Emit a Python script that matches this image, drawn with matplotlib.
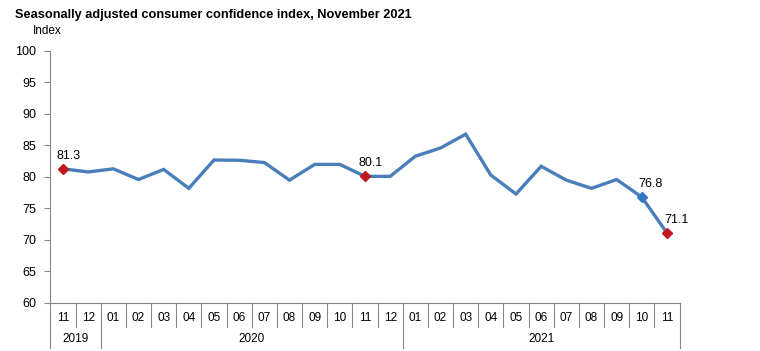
import matplotlib
matplotlib.use("Agg")
import matplotlib.pyplot as plt
import matplotlib.transforms as mtransforms

plt.rcParams['font.family'] = ['Liberation Sans', 'DejaVu Sans']

months = ["11", "12", "01", "02", "03", "04", "05", "06", "07", "08", "09", "10", "11", "12",
          "01", "02", "03", "04", "05", "06", "07", "08", "09", "10", "11"]
years = ["2019", "2020", "2021"]
year_counts = [2, 12, 11]
values = [81.3, 80.8, 81.3, 79.6, 81.2, 78.2, 82.7, 82.65, 82.3, 79.5, 82.0, 82.0, 80.1,
          80.1, 83.3, 84.6, 86.8, 80.3, 77.3, 81.7, 79.5, 78.2, 79.6, 76.8, 71.1]
red_idx = [0, 12, 24]
blue_idx = [23]
labels = {0: "81.3", 12: "80.1", 23: "76.8", 24: "71.1"}

line_c = "#4a7ebb"
red_c = "#c0181c"
blue_c = "#2f78c4"
grey = "#868686"

fig = plt.figure(figsize=(7.6, 3.51), dpi=100)
ax = fig.add_axes([50.4/760, 1-303/351, (679.6-50.4)/760, (303-51)/351])

x = list(range(len(values)))
ax.plot(x, values, color=line_c, lw=2.4, solid_joinstyle='miter', zorder=2)
ax.plot([x[i] for i in red_idx], [values[i] for i in red_idx], 'D', color=red_c, ms=5, zorder=3)
ax.plot([x[i] for i in blue_idx], [values[i] for i in blue_idx], 'D', color=blue_c, ms=5, zorder=3)

offsets = {0: (-0.25, 1.1), 12: (-0.25, 1.1), 23: (-0.15, 1.1), 24: (-0.1, 1.1)}
for i, t in labels.items():
    dx, dy = offsets[i]
    ax.text(x[i] + dx, values[i] + dy, t, fontsize=9, ha='left', va='bottom', color='#000000')

ax.set_xlim(-0.5, len(values) - 0.5)
ax.set_ylim(60, 100)
ax.set_yticks(range(60, 101, 5))
ax.tick_params(axis='y', direction='out', length=4, color=grey, labelsize=9, pad=6)
ax.set_xticks([])
for s in ['top', 'right']:
    ax.spines[s].set_visible(False)
ax.spines['left'].set_color(grey)
ax.spines['bottom'].set_color(grey)
ax.spines['left'].set_linewidth(0.8)
ax.spines['bottom'].set_linewidth(0.8)

trans = mtransforms.blended_transform_factory(ax.transData, ax.transAxes)
def ay(py):
    return (303 - py) / 252.0

for i, m in enumerate(months):
    ax.text(i, ay(318), m, transform=trans, ha='center', va='center', fontsize=8.5, clip_on=False)

year_bounds = [-0.5]
for c in year_counts:
    year_bounds.append(year_bounds[-1] + c)
for k in range(len(months) + 1):
    xb = k - 0.5
    if xb in year_bounds:
        ax.plot([xb, xb], [0, ay(348)], transform=trans, color=grey, lw=0.8, clip_on=False)
    else:
        ax.plot([xb, xb], [0, ay(327)], transform=trans, color=grey, lw=0.8, clip_on=False)

for j, yname in enumerate(years):
    xc = (year_bounds[j] + year_bounds[j+1]) / 2
    ax.text(xc, ay(339), yname, transform=trans, ha='center', va='center', fontsize=8.5, clip_on=False)

fig.text(15/760, 1-15/351, "Seasonally adjusted consumer confidence index, November 2021",
         fontsize=9.2, fontweight='bold', ha='left', va='center')
fig.text(33/760, 1-31/351, "Index", fontsize=8.5, ha='left', va='center')

fig.savefig("out.png", dpi=100, facecolor='white')
